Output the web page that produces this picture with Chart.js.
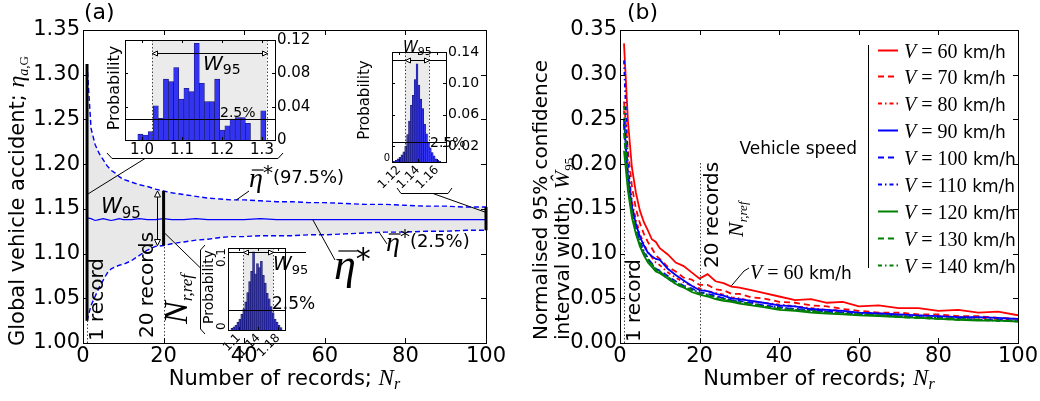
<!DOCTYPE html>
<html>
<head>
<meta charset="utf-8">
<title>Confidence interval width vs number of records</title>
<script src="https://cdn.jsdelivr.net/npm/chart.js@4.4.1/dist/chart.umd.min.js"></script>
<style>
  html, body { margin: 0; padding: 0; background: #fff; }
  #wrap { position: relative; width: 1040px; height: 401px; overflow: hidden; background: #fff; }
  canvas { position: absolute; }
</style>
</head>
<body>
<div id="wrap">
  <canvas id="panelA" width="520" height="401" style="left:0;top:0"></canvas>
  <canvas id="panelB" width="520" height="401" style="left:520px;top:0"></canvas>
  <canvas id="histN1" width="230" height="140" style="left:95px;top:28px"></canvas>
  <canvas id="histN100" width="130" height="160" style="left:350px;top:40px"></canvas>
  <canvas id="histN20" width="135" height="135" style="left:190px;top:238px"></canvas>
</div>
<script>
// ---------- panel (a): bootstrap spread of the global accident ratio ----------
const recordsA = [1, 2, 3, 4, 5, 6, 7, 8, 9, 10, 12, 14, 16, 18, 20, 22, 25, 28, 31, 34, 37, 40, 44, 48, 52, 56, 60, 65, 70, 75, 80, 85, 90, 95, 100];
const etaUpper = [1.312, 1.240, 1.222, 1.212, 1.205, 1.198, 1.193, 1.190, 1.186, 1.183, 1.180, 1.177, 1.175, 1.172, 1.170, 1.168, 1.166, 1.164, 1.162, 1.161, 1.160, 1.160, 1.159, 1.158, 1.158, 1.157, 1.157, 1.156, 1.155, 1.155, 1.154, 1.153, 1.153, 1.152, 1.152];
const etaLower = [1.025, 1.042, 1.052, 1.062, 1.070, 1.078, 1.083, 1.085, 1.087, 1.088, 1.092, 1.098, 1.104, 1.108, 1.109, 1.111, 1.113, 1.115, 1.116, 1.118, 1.119, 1.119, 1.120, 1.120, 1.120, 1.121, 1.121, 1.122, 1.123, 1.124, 1.124, 1.125, 1.125, 1.126, 1.126];
const etaMean = [1.140, 1.139, 1.137, 1.138, 1.139, 1.138, 1.137, 1.138, 1.139, 1.138, 1.138, 1.139, 1.138, 1.138, 1.139, 1.138, 1.138, 1.139, 1.138, 1.138, 1.138, 1.138, 1.139, 1.138, 1.138, 1.138, 1.138, 1.138, 1.138, 1.138, 1.138, 1.138, 1.138, 1.138, 1.138];
const ticksAx = [0, 20, 40, 60, 80, 100];
const ticksAy = [1.00, 1.05, 1.10, 1.15, 1.20, 1.25, 1.30, 1.35];

// ---------- panel (b): normalised W95 per vehicle speed ----------
const recordsB = [1, 2, 3, 4, 5, 6, 7, 8, 9, 10, 12, 14, 16, 18, 20, 22, 24, 26, 28, 30, 33, 36, 40, 44, 48, 52, 56, 60, 65, 70, 75, 80, 85, 90, 95, 100];
const speeds = [60, 70, 80, 90, 100, 110, 120, 130, 140];
const w60 = [0.335, 0.248, 0.196, 0.168, 0.148, 0.135, 0.126, 0.116, 0.113, 0.106, 0.099, 0.090, 0.086, 0.079, 0.072, 0.077, 0.069, 0.067, 0.063, 0.062, 0.059, 0.056, 0.052, 0.048, 0.049, 0.045, 0.046, 0.041, 0.042, 0.039, 0.039, 0.036, 0.037, 0.034, 0.035, 0.031];
const w70 = [0.270, 0.215, 0.175, 0.150, 0.134, 0.122, 0.113, 0.106, 0.098, 0.094, 0.085, 0.080, 0.073, 0.071, 0.065, 0.065, 0.060, 0.059, 0.055, 0.055, 0.051, 0.050, 0.046, 0.045, 0.042, 0.041, 0.038, 0.036, 0.034, 0.034, 0.032, 0.032, 0.030, 0.030, 0.028, 0.027];
const w80 = [0.260, 0.190, 0.158, 0.138, 0.122, 0.111, 0.102, 0.096, 0.090, 0.087, 0.079, 0.073, 0.068, 0.064, 0.061, 0.058, 0.056, 0.054, 0.051, 0.050, 0.047, 0.045, 0.043, 0.041, 0.039, 0.037, 0.036, 0.034, 0.033, 0.032, 0.031, 0.030, 0.029, 0.028, 0.027, 0.026];
const w90 = [0.250, 0.185, 0.152, 0.133, 0.119, 0.109, 0.101, 0.097, 0.094, 0.093, 0.083, 0.076, 0.070, 0.064, 0.059, 0.058, 0.055, 0.053, 0.050, 0.049, 0.047, 0.045, 0.042, 0.041, 0.038, 0.037, 0.036, 0.034, 0.033, 0.032, 0.031, 0.030, 0.029, 0.029, 0.028, 0.027];
const w100 = [0.245, 0.178, 0.145, 0.126, 0.112, 0.101, 0.094, 0.089, 0.083, 0.081, 0.075, 0.069, 0.064, 0.061, 0.057, 0.055, 0.053, 0.050, 0.048, 0.047, 0.045, 0.042, 0.040, 0.038, 0.037, 0.035, 0.034, 0.033, 0.031, 0.030, 0.029, 0.028, 0.027, 0.026, 0.026, 0.025];
const w110 = [0.316, 0.200, 0.155, 0.131, 0.115, 0.103, 0.095, 0.088, 0.082, 0.079, 0.072, 0.066, 0.062, 0.060, 0.056, 0.054, 0.052, 0.050, 0.048, 0.046, 0.044, 0.042, 0.040, 0.038, 0.036, 0.035, 0.034, 0.032, 0.031, 0.030, 0.029, 0.028, 0.027, 0.026, 0.025, 0.025];
const w120 = [0.215, 0.170, 0.140, 0.122, 0.108, 0.098, 0.090, 0.085, 0.080, 0.078, 0.072, 0.066, 0.062, 0.057, 0.054, 0.052, 0.049, 0.047, 0.046, 0.044, 0.042, 0.040, 0.037, 0.036, 0.034, 0.033, 0.032, 0.031, 0.030, 0.029, 0.028, 0.027, 0.026, 0.025, 0.025, 0.024];
const w130 = [0.235, 0.175, 0.143, 0.124, 0.110, 0.100, 0.092, 0.087, 0.082, 0.079, 0.073, 0.067, 0.063, 0.059, 0.055, 0.053, 0.050, 0.048, 0.047, 0.045, 0.043, 0.041, 0.038, 0.037, 0.035, 0.034, 0.033, 0.032, 0.031, 0.029, 0.028, 0.027, 0.026, 0.026, 0.025, 0.024];
const w140 = [0.265, 0.180, 0.146, 0.126, 0.112, 0.101, 0.094, 0.088, 0.083, 0.080, 0.074, 0.068, 0.063, 0.060, 0.056, 0.054, 0.051, 0.049, 0.047, 0.046, 0.044, 0.041, 0.039, 0.037, 0.036, 0.034, 0.033, 0.032, 0.031, 0.030, 0.029, 0.028, 0.027, 0.026, 0.025, 0.025];
const widthSeries = [w60, w70, w80, w90, w100, w110, w120, w130, w140];
const ticksBx = [0, 20, 40, 60, 80, 100];
const ticksBy = [0.00, 0.05, 0.10, 0.15, 0.20, 0.25, 0.30, 0.35];

// ---------- histograms of the bootstrap means (1, 20 and 100 records) ----------
const binsN1 = [0.9960, 1.0088, 1.0216, 1.0344, 1.0472, 1.0600, 1.0728, 1.0856, 1.0984, 1.1112, 1.1240, 1.1368, 1.1496, 1.1624, 1.1752, 1.1880, 1.2008, 1.2136, 1.2264, 1.2392, 1.2520, 1.2648, 1.2776, 1.2904, 1.3032];
const probN1 = [0.007, 0.006, 0.010, 0.041, 0.026, 0.073, 0.070, 0.087, 0.049, 0.062, 0.058, 0.116, 0.068, 0.046, 0.046, 0.073, 0.012, 0.017, 0.025, 0.027, 0.027, 0.020, 0, 0, 0.035];
const binsN20 = [1.086, 1.090, 1.094, 1.098, 1.102, 1.106, 1.110, 1.114, 1.118, 1.122, 1.126, 1.130, 1.134, 1.138, 1.142, 1.146, 1.150, 1.154, 1.158, 1.162, 1.166, 1.170, 1.174, 1.178, 1.182, 1.186];
const probN20 = [0.002, 0.004, 0.006, 0.010, 0.014, 0.020, 0.027, 0.036, 0.048, 0.062, 0.075, 0.100, 0.072, 0.085, 0.080, 0.088, 0.070, 0.060, 0.047, 0.040, 0.030, 0.022, 0.014, 0.010, 0.006, 0.003];
const binsN100 = [1.115, 1.117, 1.119, 1.121, 1.123, 1.125, 1.127, 1.129, 1.131, 1.133, 1.135, 1.137, 1.139, 1.141, 1.143, 1.145, 1.147, 1.149, 1.151, 1.153, 1.155, 1.157, 1.159, 1.161, 1.163];
const probN100 = [0.001, 0.002, 0.004, 0.006, 0.009, 0.013, 0.020, 0.035, 0.052, 0.072, 0.085, 0.105, 0.125, 0.098, 0.080, 0.068, 0.048, 0.036, 0.025, 0.018, 0.012, 0.008, 0.004, 0.002, 0.001];
const ticksN1x = [1.0, 1.1, 1.2, 1.3], labelsN1x = ['1.0', '1.1', '1.2', '1.3'];
const ticksN1y = [0, 0.04, 0.08, 0.12], labelsN1y = ['0', '0.04', '0.08', '0.12'];
const ticksN100x = [1.12, 1.14, 1.16], labelsN100x = ['1.12', '1.14', '1.16'];
const ticksN100y = [0.02, 0.06, 0.10, 0.14], labelsN100y = ['0.02', '0.06', '0.10', '0.14'];
const ticksN20x = [1.10, 1.14, 1.18], labelsN20x = ['1.1', '1.14', '1.18'];
const ticksN20y = [0, 0.1], labelsN20y = ['0', '0.1'];

const SANS = '"DejaVu Sans"';
const SERIF = '"Liberation Serif"';
const f = (size, fam = SANS, style = '') => (style ? style + ' ' : '') + size + 'px ' + fam;
Chart.defaults.font.family = 'DejaVu Sans';
Chart.defaults.color = '#000';

// ---------- small drawing helpers ----------
function seg(ctx, pts) {
  ctx.beginPath();
  pts.forEach(([px, py], i) => (i ? ctx.lineTo(px, py) : ctx.moveTo(px, py)));
  ctx.stroke();
}
function put(ctx, text, x, y, font, align = 'left') {
  ctx.font = font; ctx.textAlign = align; ctx.textBaseline = 'alphabetic';
  ctx.fillText(text, x, y);
}
// pieces: [text, font, dy, overlineOffset]
function runWidth(ctx, pieces) {
  let w = 0;
  for (const p of pieces) { ctx.font = p[1]; w += ctx.measureText(p[0]).width; }
  return w;
}
function run(ctx, pieces, x, y) {
  let cx = x;
  ctx.textAlign = 'left'; ctx.textBaseline = 'alphabetic';
  for (const [t, font, dy = 0, bar] of pieces) {
    ctx.font = font;
    const w = ctx.measureText(t).width;
    ctx.fillText(t, cx, y + dy);
    if (bar) {
      ctx.save(); ctx.lineWidth = 1.2; ctx.strokeStyle = ctx.fillStyle;
      seg(ctx, [[cx + w * 0.2, y + dy - bar], [cx + w * 1.05, y + dy - bar]]);
      ctx.restore();
    }
    cx += w;
  }
  return cx - x;
}
// text running upwards; (x, y) = baseline x, start y
function runUp(ctx, pieces, x, y) {
  ctx.save(); ctx.translate(x, y); ctx.rotate(-Math.PI / 2);
  run(ctx, pieces, 0, 0);
  ctx.restore();
}
function head(ctx, x, y, ang, len = 6, half = 3) {
  ctx.save(); ctx.translate(x, y); ctx.rotate(ang);
  ctx.beginPath(); ctx.moveTo(0, 0); ctx.lineTo(-len, -half); ctx.lineTo(-len, half); ctx.closePath();
  ctx.fillStyle = '#fff'; ctx.fill();
  ctx.lineWidth = 1; ctx.strokeStyle = '#000'; ctx.stroke();
  ctx.restore();
}

// boxed axes with inward tick marks on all four sides
const frameTicks = {
  id: 'frameTicks',
  afterDraw(chart) {
    const { ctx, chartArea: a, scales: { x, y } } = chart;
    ctx.save();
    ctx.strokeStyle = '#000'; ctx.lineWidth = 1;
    x.ticks.forEach(t => {
      const p = Math.round(x.getPixelForValue(t.value)) + 0.5;
      seg(ctx, [[p, a.bottom], [p, a.bottom - 5]]);
      seg(ctx, [[p, a.top], [p, a.top + 5]]);
    });
    y.ticks.forEach(t => {
      const p = Math.round(y.getPixelForValue(t.value)) + 0.5;
      seg(ctx, [[a.left, p], [a.left + 5, p]]);
      seg(ctx, [[a.right, p], [a.right - 5, p]]);
    });
    ctx.strokeRect(Math.round(a.left) + 0.5, Math.round(a.top) + 0.5, Math.round(a.width), Math.round(a.height));
    ctx.restore();
  }
};

function mainX(vals) {
  return {
    type: 'linear', min: vals[0], max: vals[vals.length - 1], offset: false,
    grid: { display: false, drawTicks: false }, border: { display: false },
    afterBuildTicks: s => { s.ticks = vals.map(v => ({ value: v })); },
    afterFit: s => { s.height = 58; },
    ticks: { autoSkip: false, maxRotation: 0, padding: 1, font: { size: 21 }, callback: v => String(v) }
  };
}
function mainY(vals, width) {
  return {
    type: 'linear', min: vals[0], max: vals[vals.length - 1],
    grid: { display: false, drawTicks: false }, border: { display: false },
    afterBuildTicks: s => { s.ticks = vals.map(v => ({ value: v })); },
    afterFit: s => { s.width = width; },
    ticks: { autoSkip: false, padding: 3, font: { size: 21 }, callback: v => v.toFixed(2) }
  };
}

// ---------- panel (a) annotations ----------
const decoA = {
  id: 'decoA',
  afterDatasetsDraw(chart) {
    const { ctx, scales: { x, y } } = chart;
    const at = n => recordsA.indexOf(n);
    ctx.save();
    // W95 bars at 1, 20 and 100 records
    ctx.strokeStyle = '#000'; ctx.lineWidth = 3;
    for (const n of [1, 20, 100]) {
      const px = x.getPixelForValue(n);
      seg(ctx, [[px, y.getPixelForValue(etaLower[at(n)])], [px, y.getPixelForValue(etaUpper[at(n)])]]);
    }
    // dotted drops to the axis
    ctx.lineWidth = 1; ctx.strokeStyle = '#444'; ctx.setLineDash([1.5, 2]);
    for (const n of [1, 20]) {
      const px = Math.round(x.getPixelForValue(n)) + 0.5;
      seg(ctx, [[px, y.getPixelForValue(y.min)], [px, y.getPixelForValue(etaLower[at(n)])]]);
    }
    ctx.setLineDash([]);
    ctx.strokeStyle = '#000';
    // W95 double arrow beside the 20-record bar
    const ax = Math.round(x.getPixelForValue(18.4)) + 0.5;
    const top = y.getPixelForValue(etaUpper[at(20)]), bot = y.getPixelForValue(etaLower[at(20)]);
    seg(ctx, [[ax, top + 5], [ax, bot - 5]]);
    head(ctx, ax, top, -Math.PI / 2); head(ctx, ax, bot, Math.PI / 2);
    // brackets of the histogram insets and their pointers
    seg(ctx, [[107, 153], [112, 158.5], [278, 158.5], [283, 153]]);
    seg(ctx, [[145, 158.5], [x.getPixelForValue(1), y.getPixelForValue(1.166)]]);
    seg(ctx, [[397, 188], [401, 193.5], [448, 193.5], [452, 188]]);
    seg(ctx, [[433, 193.5], [x.getPixelForValue(100), y.getPixelForValue(1.146)]]);
    seg(ctx, [[205, 245], [200.5, 250], [200.5, 329], [205, 334]]);
    seg(ctx, [[200.5, 268], [x.getPixelForValue(20), y.getPixelForValue(1.124)]]);
    // leaders of the eta labels
    seg(ctx, [[x.getPixelForValue(38), y.getPixelForValue(1.1598)], [249, 191]]);
    seg(ctx, [[x.getPixelForValue(73.5), y.getPixelForValue(1.1237)], [387, 244]]);
    seg(ctx, [[x.getPixelForValue(57), y.getPixelForValue(1.138)], [335, 260]]);
    // labels
    ctx.fillStyle = '#000';
    run(ctx, [['W', f(21, SANS, 'italic')], ['95', f(15), 5]], 101, 213);
    run(ctx, [['η', f(28, SERIF, 'italic'), 0, 17], ['*', f(20), -8], ['(97.5%)', f(18), -4]], 249, 187);
    run(ctx, [['η', f(28, SERIF, 'italic'), 0, 17], ['*', f(20), -8], ['(2.5%)', f(18), -4]], 386, 251);
    run(ctx, [['η', f(44, SERIF, 'italic'), 0, 28], ['*', f(30), -10]], 334, 279);
    runUp(ctx, [['1 record', f(20)]], 103, 341);
    runUp(ctx, [['20 records', f(20)]], 153, 338);
    runUp(ctx, [['N', f(34, SERIF, 'italic')], ['r,ref', f(17, SERIF, 'italic'), 5]], 187, 324);
    ctx.restore();
  },
  afterDraw(chart) {
    const { ctx, chartArea: a } = chart;
    ctx.save(); ctx.fillStyle = '#000';
    put(ctx, '(a)', 84, 19, f(22));
    const xt = [['Number of records; ', f(21)], ['N', f(23, SERIF, 'italic')], ['r', f(16, SERIF, 'italic'), 4]];
    run(ctx, xt, (a.left + a.right) / 2 - runWidth(ctx, xt) / 2, 385);
    const yt = [['Global vehicle accident; ', f(21)], ['η', f(24, SERIF, 'italic')], ['a', f(14, SERIF, 'italic'), 4], [',G', f(13, SERIF), 4]];
    runUp(ctx, yt, 24, 201 + runWidth(ctx, yt) / 2);
    ctx.restore();
  }
};

new Chart(document.getElementById('panelA'), {
  type: 'line',
  data: {
    datasets: [
      { data: recordsA.map((n, i) => ({ x: n, y: etaUpper[i] })), borderColor: '#0000ff', borderWidth: 1.4, borderDash: [5, 3], pointRadius: 0, fill: '+1', backgroundColor: '#e8e8e8' },
      { data: recordsA.map((n, i) => ({ x: n, y: etaLower[i] })), borderColor: '#0000ff', borderWidth: 1.4, borderDash: [5, 3], pointRadius: 0, fill: false },
      { data: recordsA.map((n, i) => ({ x: n, y: etaMean[i] })), borderColor: '#0000ff', borderWidth: 1.2, pointRadius: 0, fill: false }
    ]
  },
  options: {
    responsive: false, animation: false, devicePixelRatio: 1,
    layout: { padding: { left: 0, top: 30, right: 34, bottom: 0 } },
    plugins: { legend: { display: false }, tooltip: { enabled: false }, filler: { drawTime: 'beforeDatasetsDraw' } },
    scales: { x: mainX(ticksAx), y: mainY(ticksAy, 83) }
  },
  plugins: [decoA, frameTicks]
});

// ---------- panel (b) ----------
const OX = 520;   // left edge of panel (b) on the page
const speedColors = ['#ff0000', '#ff0000', '#ff0000', '#0000ff', '#0000ff', '#0000ff', '#008000', '#008000', '#008000'];
const speedDashes = [[], [6, 4], [4, 3, 1.5, 3], [], [6, 4], [4, 3, 1.5, 3], [], [6, 4], [4, 3, 1.5, 3]];
const speedOrder = [3, 3, 3, 2, 2, 2, 1, 1, 1];

const vLabel = (v, size, sans) => [['V', f(size, SERIF, 'italic')], [' = ', f(size, SERIF)], [String(v), f(size, SERIF)], [' km/h', f(sans)]];

const decoB = {
  id: 'decoB',
  afterDatasetsDraw(chart) {
    const { ctx, scales: { x, y } } = chart;
    ctx.save();
    ctx.lineWidth = 1; ctx.strokeStyle = '#444'; ctx.setLineDash([1.5, 2]);
    seg(ctx, [[Math.round(x.getPixelForValue(1)) + 0.5, y.getPixelForValue(0)], [Math.round(x.getPixelForValue(1)) + 0.5, y.getPixelForValue(0.17)]]);
    seg(ctx, [[Math.round(x.getPixelForValue(20)) + 0.5, y.getPixelForValue(0)], [Math.round(x.getPixelForValue(20)) + 0.5, y.getPixelForValue(0.2025)]]);
    ctx.setLineDash([]);
    ctx.fillStyle = '#000'; ctx.strokeStyle = '#000';
    runUp(ctx, [['1 record', f(20)]], 640 - OX, 342);
    runUp(ctx, [['20 records', f(20)]], 718 - OX, 268);
    runUp(ctx, [['N', f(22, SERIF, 'italic')], ['r,ref', f(13, SERIF, 'italic'), 4]], 743 - OX, 237);
    // label on the 60 km/h curve
    seg(ctx, [[x.getPixelForValue(28), y.getPixelForValue(0.064)], [744 - OX, 271], [749 - OX, 268]]);
    run(ctx, vLabel(60, 20, 17), 750 - OX, 279);
    put(ctx, 'Vehicle speed', 857 - OX, 154, f(17), 'right');
    // legend
    seg(ctx, [[868.5 - OX, 45], [868.5 - OX, 268]]);
    chart.data.datasets.forEach((ds, i) => {
      const ly = Math.round(49.5 + i * 26.9) + 0.5;
      ctx.strokeStyle = ds.borderColor; ctx.lineWidth = 2; ctx.setLineDash(ds.borderDash);
      seg(ctx, [[878 - OX, ly], [898 - OX, ly]]);
      ctx.setLineDash([]);
      run(ctx, vLabel(speeds[i], 20, 17), 904 - OX, ly + 7);
    });
    ctx.restore();
  },
  afterDraw(chart) {
    const { ctx, chartArea: a } = chart;
    ctx.save(); ctx.fillStyle = '#000';
    put(ctx, '(b)', 627 - OX, 19, f(22));
    const xt = [['Number of records; ', f(21)], ['N', f(23, SERIF, 'italic')], ['r', f(16, SERIF, 'italic'), 4]];
    run(ctx, xt, (a.left + a.right) / 2 - runWidth(ctx, xt) / 2, 385);
    runUp(ctx, [['Normalised 95% confidence', f(20)]], 547 - OX, 340);
    runUp(ctx, [['interval width; ', f(20)], ['Ŵ', f(22, SERIF, 'italic')], ['95', f(13, SERIF), 4]], 569 - OX, 340);
    ctx.restore();
  }
};

new Chart(document.getElementById('panelB'), {
  type: 'line',
  data: {
    datasets: speeds.map((v, i) => ({
      label: 'V=' + v + ' km/h',
      data: recordsB.map((n, j) => ({ x: n, y: widthSeries[i][j] })),
      borderColor: speedColors[i], borderDash: speedDashes[i], borderWidth: 1.8,
      pointRadius: 0, fill: false, order: speedOrder[i]
    }))
  },
  options: {
    responsive: false, animation: false, devicePixelRatio: 1,
    layout: { padding: { left: 0, top: 30, right: 22, bottom: 0 } },
    plugins: { legend: { display: false }, tooltip: { enabled: false } },
    scales: { x: mainX(ticksBx), y: mainY(ticksBy, 100) }
  },
  plugins: [decoB, frameTicks]
});

// ---------- histogram insets ----------
function makeInset(o) {
  const deco = {
    id: 'histDeco',
    beforeDatasetsDraw(chart) {
      const { ctx, chartArea: a, scales: { x } } = chart;
      ctx.save();
      ctx.fillStyle = '#fff'; ctx.fillRect(a.left, a.top, a.width, a.height);
      const xl = x.getPixelForValue(o.lo), xh = x.getPixelForValue(o.hi);
      ctx.fillStyle = '#ebebeb'; ctx.fillRect(xl, a.top, xh - xl, a.height);
      ctx.restore();
    },
    afterDatasetsDraw(chart) {
      const { ctx, chartArea: a, scales: { x, y } } = chart;
      const L = o.left, T = o.top;
      const xl = Math.round(x.getPixelForValue(o.lo)) + 0.5, xh = Math.round(x.getPixelForValue(o.hi)) + 0.5;
      ctx.save();
      ctx.lineWidth = 1; ctx.strokeStyle = '#444'; ctx.setLineDash([1.5, 2]);
      seg(ctx, [[xl, a.top], [xl, a.bottom]]); seg(ctx, [[xh, a.top], [xh, a.bottom]]);
      ctx.setLineDash([]); ctx.strokeStyle = '#000';
      const ly = Math.round(y.getPixelForValue(o.level)) + 0.5;
      seg(ctx, [[a.left, ly], [a.right, ly]]);
      const ay = Math.round(y.getPixelForValue(o.arrow)) + 0.5;
      seg(ctx, [[o.arrowFrom == null ? xl : o.arrowFrom - L, ay], [o.arrowTo == null ? xh : o.arrowTo - L, ay]]);
      head(ctx, xl, ay, Math.PI, 5, 2.5); head(ctx, xh, ay, 0, 5, 2.5);
      ctx.strokeRect(Math.round(a.left) + 0.5, Math.round(a.top) + 0.5, Math.round(a.width), Math.round(a.height));
      o.xTicks.forEach(v => {
        const p = Math.round(x.getPixelForValue(v)) + 0.5;
        seg(ctx, [[p, a.bottom], [p, a.bottom - 3]]); seg(ctx, [[p, a.top], [p, a.top + 3]]);
      });
      o.yTicks.forEach(v => {
        const p = Math.round(y.getPixelForValue(v)) + 0.5;
        seg(ctx, [[a.left, p], [a.left + 3, p]]); seg(ctx, [[a.right, p], [a.right - 3, p]]);
      });
      ctx.fillStyle = '#000';
      put(ctx, '2.5%', o.pct[0] - L, o.pct[1] - T, f(o.pct[2]));
      const ws = o.w95[2];
      run(ctx, [['W', f(ws, SANS, 'italic')], ['95', f(Math.round(ws * 0.7)), Math.round(ws * 0.2)]], o.w95[0] - L, o.w95[1] - T);
      const pl = [['Probability', f(o.ylab[2])]];
      runUp(ctx, pl, o.ylab[0] - L + o.ylab[2] * 0.36, o.ylab[1] - T + runWidth(ctx, pl) / 2);
      if (o.extra) o.extra(ctx, a, y);
      ctx.restore();
    }
  };
  return new Chart(document.getElementById(o.el), {
    type: 'bar',
    data: {
      datasets: [{
        data: o.bins.map((b, i) => ({ x: b, y: o.prob[i] })),
        backgroundColor: '#3333f2', borderColor: '#14145e', borderWidth: 0.6,
        barPercentage: 1, categoryPercentage: 1
      }]
    },
    options: {
      responsive: false, animation: false, devicePixelRatio: 1,
      layout: { padding: o.padding },
      plugins: { legend: { display: false }, tooltip: { enabled: false } },
      scales: {
        x: {
          type: 'linear', min: o.xMin, max: o.xMax, offset: false,
          grid: { display: false, drawTicks: false }, border: { display: false },
          afterBuildTicks: s => { s.ticks = o.xTicks.map(v => ({ value: v })); },
          afterFit: s => { s.height = o.xH; },
          ticks: { autoSkip: false, minRotation: o.rot, maxRotation: o.rot, padding: o.xPad, font: { size: o.xFont }, callback: (v, i) => o.xLabels[i] }
        },
        y: {
          type: 'linear', position: 'right', display: o.yLabels != null, min: 0, max: o.yMax,
          grid: { display: false, drawTicks: false }, border: { display: false },
          afterBuildTicks: s => { s.ticks = o.yTicks.map(v => ({ value: v })); },
          afterFit: s => { s.width = o.yW; },
          ticks: { autoSkip: false, padding: 2, font: { size: o.yFont }, callback: (v, i) => (o.yLabels ? o.yLabels[i] : '') }
        }
      }
    },
    plugins: [deco]
  });
}

const at = n => recordsA.indexOf(n);

makeInset({
  el: 'histN1', left: 95, top: 28, bins: binsN1, prob: probN1,
  xMin: 0.9575, xMax: 1.3325, yMax: 0.12,
  xTicks: ticksN1x, xLabels: labelsN1x, yTicks: ticksN1y, yLabels: labelsN1y,
  lo: etaLower[at(1)], hi: etaUpper[at(1)], level: 0.025, arrow: 0.105,
  padding: { left: 30, top: 12, right: 0, bottom: 0 }, xH: 28, yW: 50, rot: 0, xPad: 1, xFont: 15, yFont: 15,
  pct: [220, 117, 14], w95: [203, 70, 20], ylab: [113, 88, 16]
});

makeInset({
  el: 'histN100', left: 350, top: 40, bins: binsN100, prob: probN100,
  xMin: 1.1126, xMax: 1.1695, yMax: 0.14,
  xTicks: ticksN100x, xLabels: labelsN100x, yTicks: ticksN100y, yLabels: labelsN100y,
  lo: etaLower[at(100)], hi: etaUpper[at(100)], level: 0.025, arrow: 0.13, arrowFrom: 392, arrowTo: 446,
  padding: { left: 42, top: 12, right: 0, bottom: 0 }, xH: 38, yW: 34, rot: 45, xPad: 1, xFont: 12, yFont: 14,
  pct: [430, 147, 14], w95: [403, 52, 15], ylab: [364, 100, 15],
  extra: (ctx, a) => put(ctx, '0', a.left - 2, a.bottom - 1, f(10), 'right')
});

makeInset({
  el: 'histN20', left: 190, top: 238, bins: binsN20, prob: probN20,
  xMin: 1.078, xMax: 1.194, yMax: 0.105,
  xTicks: ticksN20x, xLabels: labelsN20x, yTicks: ticksN20y, yLabels: null,
  lo: etaLower[at(20)], hi: etaUpper[at(20)], level: 0.025, arrow: 0.10, arrowFrom: 228, arrowTo: 306,
  padding: { left: 38, top: 10, right: 40, bottom: 0 }, xH: 43, yW: 0, rot: 45, xPad: 1, xFont: 12, yFont: 12,
  pct: [272, 309, 17], w95: [273, 270, 19], ylab: [208, 287, 14],
  extra: (ctx, a, y) => {
    ticksN20y.forEach((v, i) => {
      ctx.font = f(12);
      const w = ctx.measureText(labelsN20y[i]).width;
      const c = Math.min(Math.max(y.getPixelForValue(v), a.top + w / 2), a.bottom - w / 2);
      runUp(ctx, [[labelsN20y[i], f(12)]], a.left - 3, c + w / 2);
    });
  }
});
</script>
</body>
</html>
